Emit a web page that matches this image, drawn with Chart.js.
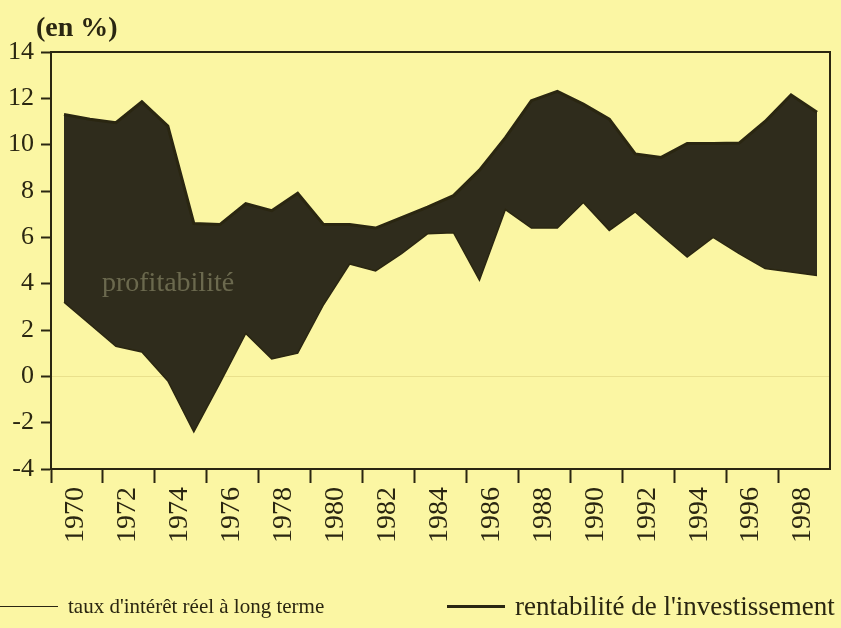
<!DOCTYPE html>
<html>
<head>
<meta charset="utf-8">
<title>Taux d'intérêt réel et rentabilité de l'investissement</title>
<script src="https://cdn.jsdelivr.net/npm/chart.js@4.4.1/dist/chart.umd.min.js"></script>
<style>
  html, body { margin: 0; padding: 0; background: #fbf6a3; }
  #wrap { position: relative; width: 841px; height: 628px; }
  #legend { position: absolute; left: 0; top: 592px; width: 841px; height: 28px;
            font-family: "Liberation Serif", serif; color: #2a2611; }
  .item { position: absolute; top: 0; height: 28px; display: flex; align-items: center; white-space: nowrap; }
  .swatch { display: inline-block; width: 58px; margin-right: 10px; }
</style>
</head>
<body>
<div id="wrap">
  <canvas id="chart" width="841" height="628"></canvas>
  <div id="legend"></div>
</div>
<script>
// values (en %)
const years = ['1970','1971','1972','1973','1974','1975','1976','1977','1978','1979',
               '1980','1981','1982','1983','1984','1985','1986','1987','1988','1989',
               '1990','1991','1992','1993','1994','1995','1996','1997','1998','1999'];
const tauxReel = [3.2, 2.25, 1.3, 1.05, -0.2, -2.4, -0.3, 1.85, 0.75, 1.0,
                  3.1, 4.85, 4.55, 5.3, 6.15, 6.2, 4.15, 7.2, 6.4, 6.4,
                  7.5, 6.3, 7.1, 6.1, 5.15, 6.0, 5.3, 4.65, 4.5, 4.35];
const rentabilite = [11.3, 11.1, 10.95, 11.85, 10.8, 6.6, 6.55, 7.45, 7.15, 7.9,
                     6.55, 6.55, 6.4, 6.85, 7.3, 7.8, 8.9, 10.3, 11.9, 12.3,
                     11.75, 11.1, 9.6, 9.45, 10.05, 10.05, 10.07, 11.0, 12.15, 11.4];
const xTickLabels = ['1970','1972','1974','1976','1978','1980','1982','1984',
                     '1986','1988','1990','1992','1994','1996','1998'];
const yTicks = [-4, -2, 0, 2, 4, 6, 8, 10, 12, 14];

const ink = '#2a2611';
const fillDark = '#2f2c1c';

Chart.defaults.font.family = '"Liberation Serif", "Times New Roman", serif';
Chart.defaults.color = ink;

// top and right sides of the frame, plus the small annotations
const cadre = {
  id: 'cadre',
  afterDatasetsDraw(chart) {
    const { ctx, chartArea: a, scales } = chart;
    ctx.save();
    ctx.strokeStyle = ink;
    ctx.lineWidth = 2;
    ctx.beginPath();
    ctx.moveTo(a.left, a.top);
    ctx.lineTo(a.right, a.top);
    ctx.lineTo(a.right, a.bottom);
    ctx.stroke();

    ctx.fillStyle = ink;
    ctx.font = 'bold 28px "Liberation Serif"';
    ctx.textAlign = 'left';
    ctx.textBaseline = 'alphabetic';
    ctx.fillText('(en %)', a.left - 15, a.top - 16);

    ctx.fillStyle = 'rgba(205, 205, 160, 0.38)';
    ctx.font = '28px "Liberation Serif"';
    ctx.fillText('profitabilité', scales.x.getPixelForValue(1) + 12, scales.y.getPixelForValue(3.7));
    ctx.restore();
  }
};

const chart = new Chart(document.getElementById('chart'), {
  type: 'line',
  data: {
    labels: years,
    datasets: [
      {
        label: "taux d'intérêt réel à long terme",
        data: tauxReel,
        borderColor: ink,
        borderWidth: 1.5,
        pointRadius: 0,
        tension: 0,
        fill: false
      },
      {
        label: "rentabilité de l'investissement",
        data: rentabilite,
        borderColor: ink,
        borderWidth: 3,
        backgroundColor: fillDark,
        pointRadius: 0,
        tension: 0,
        fill: '-1'
      }
    ]
  },
  options: {
    responsive: false,
    animation: false,
    layout: { padding: { left: 1, right: 11, top: 52, bottom: 81 } },
    plugins: {
      legend: { display: false },
      tooltip: { enabled: false }
    },
    scales: {
      x: {
        offset: true,
        // the rotated last label does not need extra room on the right
        afterFit: (scale) => { scale.paddingRight = 0; },
        grid: {
          offset: true,
          color: 'transparent',
          tickColor: (c) => (c.index % 2 === 0 ? ink : 'transparent'),
          tickLength: 14,
          tickWidth: 2
        },
        border: { color: ink, width: 2 },
        ticks: {
          autoSkip: false,
          maxRotation: 90,
          minRotation: 90,
          padding: 4,
          labelOffset: 12,
          font: { size: 28 },
          color: ink,
          callback: (val, i) => (xTickLabels.includes(years[i]) ? years[i] : '')
        }
      },
      y: {
        min: -4,
        max: 14,
        afterBuildTicks: (axis) => { axis.ticks = yTicks.map(v => ({ value: v })); },
        grid: {
          color: (c) => (c.tick && c.tick.value === 0 ? 'rgba(225, 215, 130, 0.7)' : 'transparent'),
          tickColor: ink,
          tickLength: 10,
          tickWidth: 2
        },
        border: { color: ink, width: 2 },
        ticks: {
          padding: 7,
          font: { size: 26 },
          color: ink
        }
      }
    }
  },
  plugins: [cadre]
});

// legend under the chart, built from the datasets
const legend = document.getElementById('legend');
const legendPos = [{ left: 0, size: 21 }, { left: 447, size: 27 }];
chart.data.datasets.forEach((ds, i) => {
  const item = document.createElement('div');
  item.className = 'item';
  item.style.left = legendPos[i].left + 'px';
  item.style.fontSize = legendPos[i].size + 'px';
  const sw = document.createElement('span');
  sw.className = 'swatch';
  sw.style.borderTop = ds.borderWidth + 'px solid ' + ds.borderColor;
  item.appendChild(sw);
  item.appendChild(document.createTextNode(ds.label));
  legend.appendChild(item);
});
</script>
</body>
</html>
